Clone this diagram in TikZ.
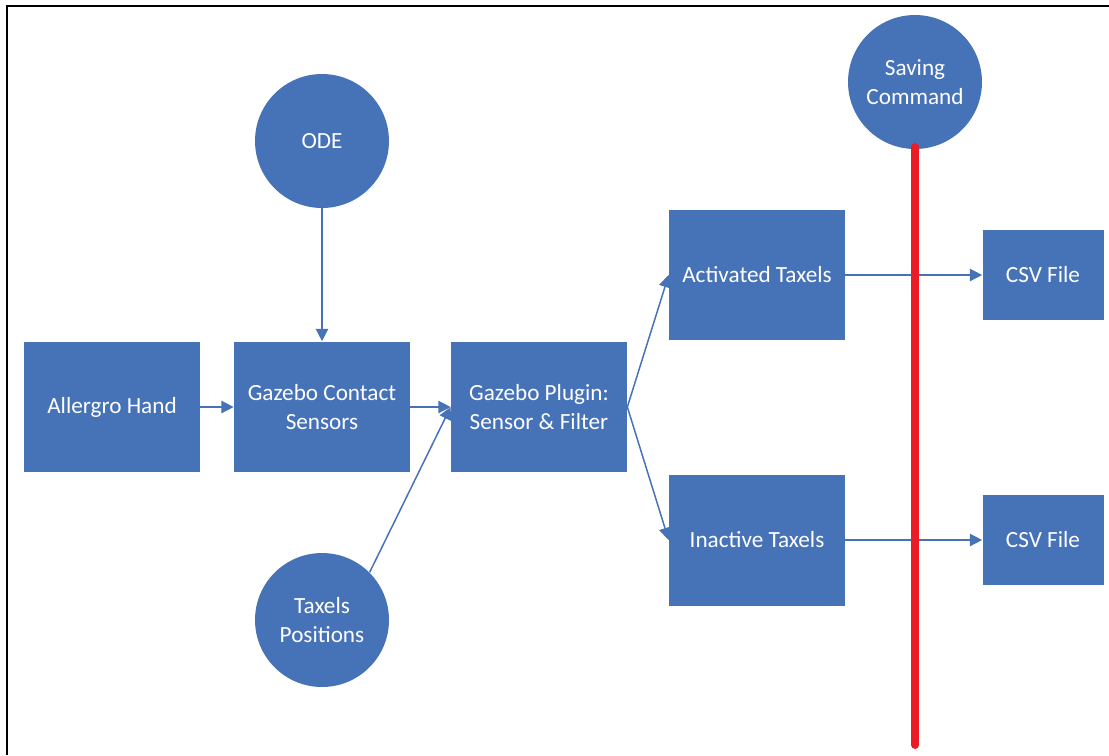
\documentclass[tikz,border=0pt]{standalone}
\usepackage{fontspec}
\setmainfont{Carlito}
\usetikzlibrary{arrows.meta,positioning,shapes}
\definecolor{boxblue}{RGB}{70,114,184}
\definecolor{cmdred}{RGB}{236,28,36}

\begin{document}
\begin{tikzpicture}[x=0.02cm,y=-0.02cm,
box/.style={rectangle,fill=boxblue,text=white,minimum width=3.52cm,minimum height=2.62cm,inner sep=0pt,align=center,font=\fontsize{13.2}{16.2}\selectfont},
csvbox/.style={box,minimum width=2.42cm,minimum height=1.8cm},
src/.style={circle,fill=boxblue,text=white,minimum size=2.68cm,inner sep=0pt,align=center,font=\fontsize{13.2}{16.2}\selectfont},
flow/.style={draw=boxblue,line width=0.85pt,-{Triangle[length=7pt,width=7pt]}}]
\useasboundingbox (0,0) rectangle (1109,755);
\draw[line width=1.1pt] (7,755)--(7,6)--(1109,6);
\node[box] (hand) at (112,407) {Allergro Hand};
\node[box] (contact) at (322,407) {Gazebo Contact\\Sensors};
\node[box] (plugin) at (539,407) {Gazebo Plugin:\\Sensor \& Filter};
\node[box] (active) at (757,275) {Activated Taxels};
\node[box] (inactive) at (757,540) {Inactive Taxels};
\node[csvbox] (csva) at (1043,275) {CSV File};
\node[csvbox] (csvb) at (1043,540) {CSV File};
\node[src] (ode) at (322,141) {ODE};
\node[src] (pos) at (322,620) {Taxels\\Positions};
\node[src] (save) at (915,82) {Saving\\Command};
\coordinate (cut) at (915,745);
\draw[flow] (ode)--(contact);
\draw[flow] (hand)--(contact);
\draw[flow] (contact)--(plugin);
\draw[flow] (pos.north east)--(plugin.west);
\draw[flow] (plugin.east)--(active.west);
\draw[flow] (plugin.east)--(inactive.west);
\draw[flow] (active)--(csva);
\draw[flow] (inactive)--(csvb);
\draw[cmdred,line width=4.5pt,line cap=round] ([yshift=-1.3cm]save.center)--(cut);
\end{tikzpicture}
\end{document}
